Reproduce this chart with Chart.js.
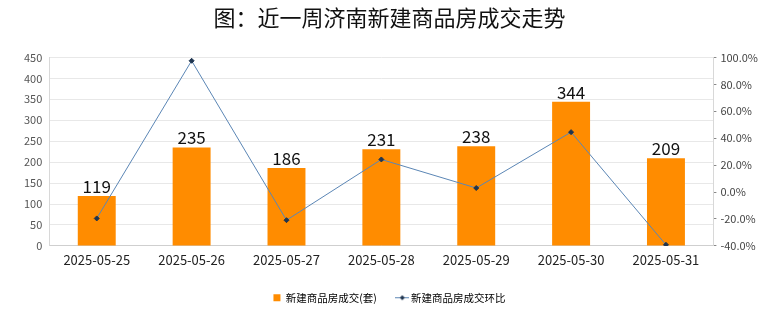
<!DOCTYPE html>
<html>
<head>
<meta charset="utf-8">
<script src="https://cdn.jsdelivr.net/npm/chart.js@4.4.1/dist/chart.umd.min.js"></script>
<style>
  html, body { margin: 0; padding: 0; background: #fff; }
  #wrap { width: 780px; height: 328px; position: relative; }
</style>
</head>
<body>
<div id="wrap"><canvas id="mainChart" width="780" height="328"></canvas></div>
<script>
var dates = ["2025-05-25", "2025-05-26", "2025-05-27", "2025-05-28", "2025-05-29", "2025-05-30", "2025-05-31"];
var salesData = [119, 235, 186, 231, 238, 344, 209];
var changeData = [-19.6, 97.5, -20.9, 24.2, 3.0, 44.5, -39.2];

var fontFamily = "'Noto Sans CJK SC', 'Noto Sans', sans-serif";

// legend marker for the line: short line with a diamond
var lineMarker = document.createElement('canvas');
lineMarker.width = 14;
lineMarker.height = 7;
var mctx = lineMarker.getContext('2d');
mctx.strokeStyle = '#5b86b5';
mctx.lineWidth = 1;
mctx.beginPath();
mctx.moveTo(0, 3.5);
mctx.lineTo(14, 3.5);
mctx.stroke();
mctx.fillStyle = '#1f3550';
mctx.beginPath();
mctx.moveTo(7, 1);
mctx.lineTo(9.5, 3.5);
mctx.lineTo(7, 6);
mctx.lineTo(4.5, 3.5);
mctx.closePath();
mctx.fill();

// draw the numbers above the bars
var barLabels = {
    id: 'barLabels',
    afterDatasetsDraw: function (chart) {
        var ctx = chart.ctx;
        var meta = chart.getDatasetMeta(1);
        ctx.save();
        ctx.font = "17px " + fontFamily;
        ctx.fillStyle = '#111';
        ctx.textAlign = 'center';
        ctx.textBaseline = 'bottom';
        meta.data.forEach(function (bar, i) {
            ctx.fillText(salesData[i], bar.x, bar.y - 1);
        });
        ctx.restore();
    }
};

var ctx = document.getElementById('mainChart').getContext('2d');
var mainChart = new Chart(ctx, {
    data: {
        labels: dates,
        datasets: [
            {
                type: 'line',
                label: '新建商品房成交环比',
                data: changeData,
                yAxisID: 'y1',
                borderColor: '#5b86b5',
                borderWidth: 1,
                backgroundColor: '#1f3550',
                pointStyle: 'rectRot',
                pointRadius: 2.5,
                pointBorderColor: '#1f3550',
                pointBackgroundColor: '#1f3550',
                tension: 0,
                order: 0
            },
            {
                type: 'bar',
                label: '新建商品房成交(套)',
                data: salesData,
                yAxisID: 'y',
                backgroundColor: '#ff8c00',
                barPercentage: 0.4,
                categoryPercentage: 1,
                order: 1
            }
        ]
    },
    options: {
        responsive: false,
        animation: false,
        layout: { padding: { left: 17, right: 18, top: 0, bottom: 15 } },
        scales: {
            x: {
                grid: { display: false },
                border: { color: '#cfcfcf' },
                ticks: { color: '#222', font: { size: 13, family: fontFamily }, padding: -2 },
                afterFit: function (scale) { scale.height += 5; }
            },
            y: {
                position: 'left',
                min: 0,
                max: 450,
                ticks: { stepSize: 50, color: '#555', font: { size: 11, family: fontFamily }, padding: 7 },
                grid: { color: '#e8e8e8', drawTicks: false },
                border: { color: '#d8d8d8' }
            },
            y1: {
                position: 'right',
                min: -40,
                max: 100,
                ticks: {
                    stepSize: 10,
                    color: '#444',
                    font: { size: 11, family: fontFamily },
                    padding: 4,
                    callback: function (v) {
                        return (Math.round(v) % 20 === 0) ? v.toFixed(1) + '%' : '';
                    }
                },
                grid: { drawOnChartArea: false, drawTicks: true, tickLength: 3, color: '#888' },
                border: { color: '#d8d8d8' }
            }
        },
        plugins: {
            title: {
                display: true,
                text: '图：近一周济南新建商品房成交走势',
                color: '#111',
                font: { size: 22, family: fontFamily, weight: 'normal' },
                padding: { top: 4, bottom: 27 }
            },
            legend: {
                position: 'bottom',
                labels: {
                    usePointStyle: true,
                    boxWidth: 7,
                    boxHeight: 7,
                    color: '#333',
                    font: { size: 10.5, family: fontFamily },
                    padding: 22,
                    generateLabels: function (chart) {
                        return [
                            { text: '新建商品房成交(套)', fillStyle: '#ff8c00', strokeStyle: '#ff8c00', pointStyle: 'rect', lineWidth: 0, datasetIndex: 1 },
                            { text: '新建商品房成交环比', fillStyle: '#1f3550', strokeStyle: '#1f3550', pointStyle: lineMarker, lineWidth: 0, datasetIndex: 0 }
                        ];
                    }
                }
            },
            tooltip: { enabled: false }
        }
    },
    plugins: [barLabels]
});
</script>
</body>
</html>
